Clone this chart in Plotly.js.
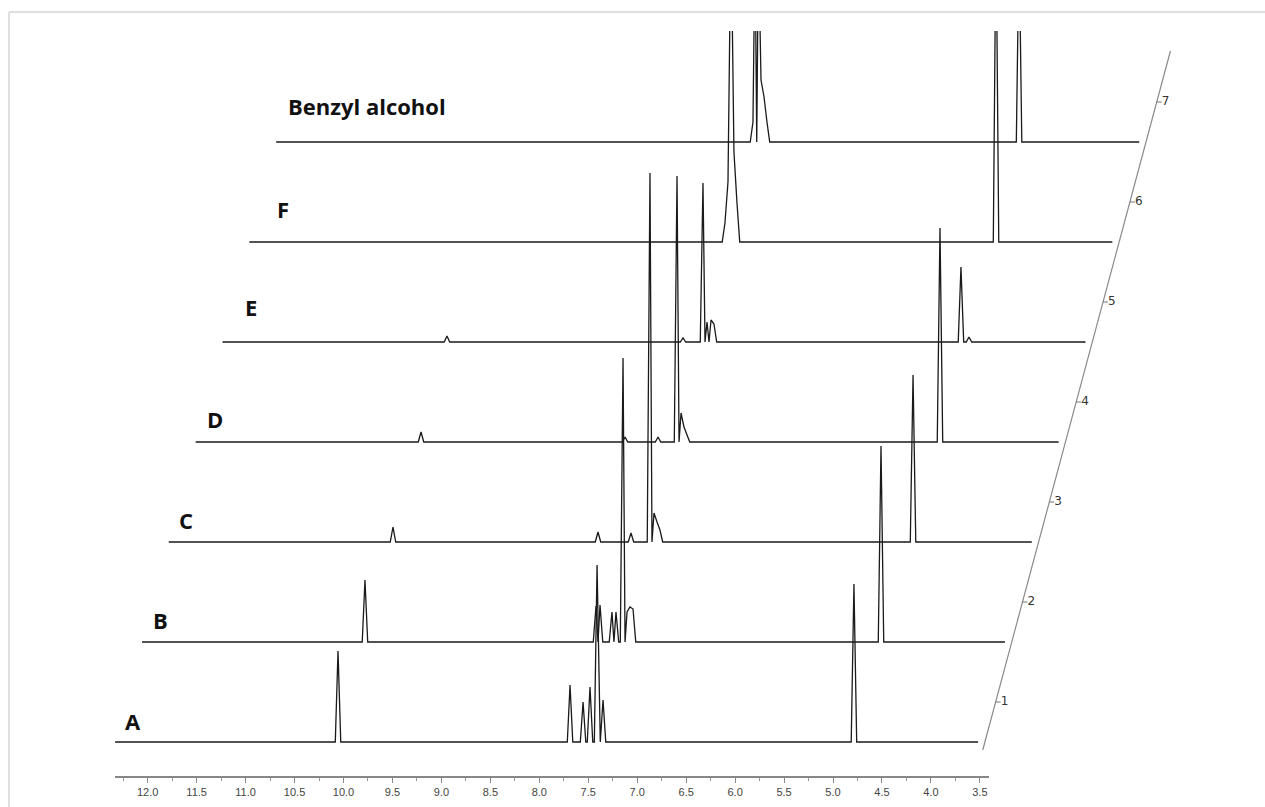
<!DOCTYPE html>
<html><head><meta charset="utf-8">
<script src="https://cdn.plot.ly/plotly-3.0.1.min.js"></script>
<style>html,body{margin:0;padding:0;background:#fff;}#chart{width:1265px;height:807px;}</style>
</head><body><div id="chart"></div>
<script>
// ---------------- DATA ----------------
const sampleNames = ['A', 'B', 'C', 'D', 'E', 'F', 'Benzyl alcohol'];
const stackLevels = [1, 2, 3, 4, 5, 6, 7];
const xTickValues = [12.0, 11.5, 11.0, 10.5, 10.0, 9.5, 9.0, 8.5, 8.0, 7.5, 7.0, 6.5, 6.0, 5.5, 5.0, 4.5, 4.0, 3.5];

// chemical shifts (ppm) and peak heights (stack units)
const ppmA = [10.056, 7.686, 7.553, 7.482, 7.410, 7.349, 4.786];
const hA   = [0.91,   0.57,  0.40,  0.55,  1.77,  0.42,  1.58];
const ppmB = [10.055, 7.695, 7.654, 7.532, 7.491, 7.419, 7.378, 7.348, 7.317, 4.784];
const hB   = [0.62,   0.36,  0.37,  0.30,  0.30,  2.84,  0.30,  0.35,  0.33,  1.96];
const ppmC = [10.043, 7.949, 7.612, 7.418, 7.377, 7.346, 7.316, 4.731];
const hC   = [0.15,   0.10,  0.09,  3.69,  0.29,  0.20,  0.12,  1.67];
const ppmD = [10.031, 7.947, 7.610, 7.416, 7.375, 7.345, 7.314, 4.730];
const hD   = [0.10,   0.05,  0.05,  2.66,  0.29,  0.15,  0.08,  2.14];
const ppmE = [10.040, 7.629, 7.425, 7.384, 7.343, 7.313, 4.790, 4.708];
const hE   = [0.06,   0.04,  1.59,  0.20,  0.22,  0.18,  0.75,  0.05];
const ppmF = [7.475, 7.444, 7.413, 7.383, 7.352, 4.706];
const hF   = [0.19,  0.60,  3.20,  0.90,  0.39,  3.20];
const ppmBA = [7.463, 7.442, 7.407, 7.381, 7.350, 7.320, 4.745];
const hBA   = [0.20,  2.00,  2.00,  0.62,  0.45,  0.20,  2.00];

const spectrumStart = 12.333, spectrumEnd = 3.518;

// ---------------- LAYOUT / STYLE ----------------
const W = 1265, H = 807;
const pxPerPpm = 97.9;
const ppmAt = px => 12 - (px - 147.7) / pxPerPpm;
const shiftPerLevel = 26.85 / pxPerPpm;
const baseA = 742, pxPerUnit = 100, plotTop = 31;
const peakHalfWidth = 0.028, mergeGap = 0.033;

const allPpm = [ppmA, ppmB, ppmC, ppmD, ppmE, ppmF, ppmBA];
const allH = [hA, hB, hC, hD, hE, hF, hBA];

function buildSpectrum(ppm, h, k) {
  const idx = ppm.map((p, i) => i).sort((a, b) => ppm[b] - ppm[a]);
  const xs = [spectrumStart], ys = [0];
  let prev = null;
  idx.forEach(i => {
    const p = ppm[i];
    if (prev !== null && prev - p < mergeGap) {
      // multiplet line: join apexes directly
    } else if (prev !== null && prev - peakHalfWidth < p + peakHalfWidth) {
      xs.push((prev + p) / 2); ys.push(0);
    } else {
      if (prev !== null) { xs.push(prev - peakHalfWidth); ys.push(0); }
      xs.push(p + peakHalfWidth); ys.push(0);
    }
    xs.push(p); ys.push(h[i]);
    prev = p;
  });
  xs.push(prev - peakHalfWidth); ys.push(0);
  xs.push(spectrumEnd); ys.push(0);
  return {
    type: 'scatter', mode: 'lines', xaxis: 'x2', yaxis: 'y',
    x: xs.map(v => v - k * shiftPerLevel),
    y: ys.map(v => v + k),
    line: {color: '#1a1a1a', width: 1.3},
    hoverinfo: 'skip', showlegend: false
  };
}

const traces = allPpm.map((p, k) => buildSpectrum(p, allH[k], k));

// skewed stack axis
const axisX0 = ppmAt(984.9);
const xAtLevel = L => axisX0 - L * shiftPerLevel;
traces.push({
  type: 'scatter', mode: 'lines', xaxis: 'x2', yaxis: 'y',
  x: [xAtLevel(-0.08), xAtLevel(6.91)], y: [-0.08, 6.91],
  line: {color: '#8a8a8a', width: 1.2}, hoverinfo: 'skip', showlegend: false
});
const tx = [], ty = [];
stackLevels.forEach(l => {
  const L = l - 0.6;
  tx.push(xAtLevel(L), xAtLevel(L) - 5 / pxPerPpm, null);
  ty.push(L, L, null);
});
traces.push({
  type: 'scatter', mode: 'lines', xaxis: 'x2', yaxis: 'y',
  x: tx, y: ty, line: {color: '#777', width: 1}, hoverinfo: 'skip', showlegend: false
});
traces.push({
  type: 'scatter', mode: 'text', xaxis: 'x2', yaxis: 'y',
  x: stackLevels.map(l => xAtLevel(l - 0.6) - 5 / pxPerPpm),
  y: stackLevels.map(l => l - 0.6),
  text: stackLevels.map(String), textposition: 'middle right',
  textfont: {family: 'DejaVu Sans', size: 12, color: '#333'},
  cliponaxis: false, hoverinfo: 'skip', showlegend: false
});
traces.push({type: 'scatter', mode: 'lines', x: [12, 3.5], y: [null, null], xaxis: 'x', yaxis: 'y',
  line: {width: 0}, hoverinfo: 'skip', showlegend: false});

const yTopLevel = (baseA - plotTop) / pxPerUnit;
const yBotLevel = -(H - baseA) / pxPerUnit;

const labelPx = [[133, 721, 'center'], [160, 620, 'center'], [186, 520, 'center'], [215, 419, 'center'],
                 [251, 307, 'center'], [283, 209, 'center'], [286, 106, 'left']];
const annotations = sampleNames.map((n, k) => ({
  text: '<b>' + n + '</b>', xref: 'paper', yref: 'paper',
  x: labelPx[k][0] / W, y: 1 - labelPx[k][1] / H,
  xanchor: labelPx[k][2], yanchor: 'middle', showarrow: false,
  font: {family: 'Open Sans', size: 22, color: '#111'}
}));

const layout = {
  width: W, height: H, margin: {l: 0, r: 0, t: 0, b: 0},
  paper_bgcolor: '#fff', plot_bgcolor: 'rgba(0,0,0,0)', showlegend: false,
  xaxis: {
    domain: [114.5 / W, 989 / W], range: [ppmAt(114.5), ppmAt(989)], autorange: false,
    anchor: 'free', position: (H - 776) / H,
    showline: true, linecolor: '#888', linewidth: 1.5, zeroline: false, showgrid: false,
    ticks: 'outside', ticklen: 5, tickcolor: '#888', tickwidth: 1,
    tickvals: xTickValues, ticktext: xTickValues.map(v => v.toFixed(1)),
    minor: {dtick: 0.25, ticks: 'outside', ticklen: 3, tickcolor: '#999', showgrid: false},
    tickfont: {family: 'Liberation Sans', size: 11, color: '#444'}
  },
  xaxis2: {
    domain: [0, 1], range: [ppmAt(0), ppmAt(W)], autorange: false, anchor: 'y',
    visible: false, showgrid: false, zeroline: false
  },
  yaxis: {
    domain: [0, 1 - plotTop / H], range: [yBotLevel, yTopLevel], autorange: false,
    visible: false, showgrid: false, zeroline: false
  },
  annotations: annotations,
  shapes: [
    {type: 'line', xref: 'paper', yref: 'paper', x0: 9 / W, x1: 1.01, y0: 1 - 12 / H, y1: 1 - 12 / H,
     line: {color: '#d6d6d6', width: 1.5}},
    {type: 'line', xref: 'paper', yref: 'paper', x0: 9 / W, x1: 9 / W, y0: 1 - 12 / H, y1: -0.02,
     line: {color: '#d6d6d6', width: 1.5}}
  ]
};
Plotly.newPlot('chart', traces, layout, {staticPlot: true, displayModeBar: false});
</script></body></html>
